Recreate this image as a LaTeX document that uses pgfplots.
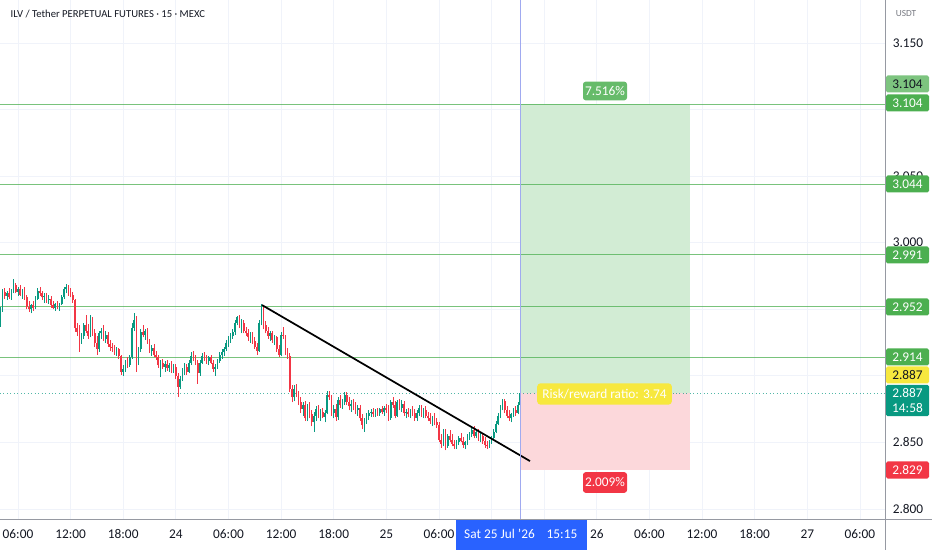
\documentclass[border=0pt]{standalone}
\usepackage{pgfplots}
\pgfplotsset{compat=1.18}
\usepackage{pgfplotstable}
\usepackage{fontspec}
\setmainfont{Carlito}
\definecolor{up}{RGB}{8,153,129}
\definecolor{dn}{RGB}{242,54,69}
\definecolor{lvl}{RGB}{76,175,80}
\definecolor{lvllight}{RGB}{125,196,127}
\definecolor{lblg}{RGB}{102,187,106}
\definecolor{gridc}{RGB}{240,243,250}
\definecolor{tvblue}{RGB}{41,98,255}
\definecolor{vline}{RGB}{160,170,240}
\definecolor{posg}{RGB}{210,236,212}
\definecolor{posr}{RGB}{252,216,219}
\definecolor{yel}{RGB}{247,232,62}
\definecolor{txt}{RGB}{19,23,34}
\definecolor{axc}{RGB}{150,153,162}
\pgfplotstableread{
t o h l c
4.00 2.941 2.952 2.937 2.950
4.25 2.950 2.965 2.948 2.963
4.50 2.963 2.966 2.958 2.960
4.75 2.960 2.964 2.957 2.962
5.00 2.962 2.966 2.958 2.959
5.25 2.959 2.965 2.957 2.964
5.50 2.964 2.973 2.962 2.968
5.75 2.968 2.970 2.962 2.963
6.00 2.963 2.967 2.960 2.965
6.25 2.965 2.968 2.960 2.961
6.50 2.961 2.965 2.958 2.963
6.75 2.963 2.967 2.957 2.959
7.00 2.959 2.961 2.950 2.952
7.25 2.952 2.956 2.948 2.950
7.50 2.950 2.954 2.947 2.953
7.75 2.953 2.956 2.949 2.951
8.00 2.951 2.960 2.950 2.958
8.25 2.958 2.966 2.957 2.964
8.50 2.964 2.967 2.960 2.962
8.75 2.962 2.964 2.957 2.959
9.00 2.959 2.962 2.955 2.960
9.25 2.960 2.962 2.955 2.957
9.50 2.957 2.961 2.954 2.958
9.75 2.958 2.960 2.951 2.953
10.00 2.953 2.956 2.950 2.951
10.25 2.951 2.955 2.949 2.954
10.50 2.954 2.956 2.950 2.952
10.75 2.952 2.955 2.949 2.954
11.00 2.954 2.961 2.953 2.959
11.25 2.959 2.967 2.958 2.965
11.50 2.965 2.969 2.962 2.967
11.75 2.967 2.968 2.960 2.962
12.00 2.962 2.966 2.959 2.961
12.25 2.961 2.963 2.955 2.957
12.50 2.957 2.958 2.933 2.936
12.75 2.936 2.940 2.930 2.933
13.00 2.933 2.938 2.918 2.926
13.25 2.926 2.932 2.924 2.930
13.50 2.930 2.940 2.928 2.938
13.75 2.938 2.946 2.932 2.934
14.00 2.934 2.939 2.928 2.930
14.25 2.930 2.946 2.929 2.942
14.50 2.942 2.944 2.930 2.932
14.75 2.932 2.935 2.922 2.925
15.00 2.925 2.930 2.916 2.920
15.25 2.920 2.934 2.918 2.932
15.50 2.932 2.936 2.928 2.934
15.75 2.934 2.938 2.926 2.928
16.00 2.928 2.934 2.925 2.931
16.25 2.931 2.933 2.922 2.924
16.50 2.924 2.927 2.919 2.922
16.75 2.922 2.925 2.918 2.921
17.00 2.921 2.923 2.916 2.918
17.25 2.918 2.922 2.915 2.920
17.50 2.920 2.921 2.913 2.915
17.75 2.915 2.916 2.901 2.903
18.00 2.903 2.908 2.900 2.905
18.25 2.905 2.912 2.903 2.910
18.50 2.910 2.914 2.906 2.908
18.75 2.908 2.916 2.907 2.914
19.00 2.914 2.940 2.913 2.936
19.25 2.936 2.947 2.934 2.942
19.50 2.942 2.945 2.903 2.910
19.75 2.910 2.922 2.908 2.920
20.00 2.920 2.935 2.918 2.933
20.25 2.933 2.938 2.929 2.931
20.50 2.931 2.935 2.927 2.934
20.75 2.934 2.936 2.924 2.926
21.00 2.926 2.928 2.917 2.919
21.25 2.919 2.923 2.915 2.921
21.50 2.921 2.924 2.914 2.916
21.75 2.916 2.919 2.912 2.914
22.00 2.914 2.916 2.906 2.908
22.25 2.908 2.912 2.899 2.910
22.50 2.910 2.913 2.905 2.907
22.75 2.907 2.911 2.903 2.909
23.00 2.909 2.912 2.904 2.906
23.25 2.906 2.910 2.903 2.908
23.50 2.908 2.911 2.902 2.904
23.75 2.904 2.909 2.902 2.907
24.00 2.907 2.909 2.898 2.900
24.25 2.900 2.902 2.884 2.892
24.50 2.892 2.900 2.890 2.898
24.75 2.898 2.906 2.896 2.904
25.00 2.904 2.910 2.901 2.907
25.25 2.907 2.909 2.901 2.903
25.50 2.903 2.912 2.902 2.910
25.75 2.910 2.918 2.908 2.915
26.00 2.915 2.919 2.911 2.913
26.25 2.913 2.916 2.908 2.910
26.50 2.910 2.912 2.894 2.902
26.75 2.902 2.912 2.900 2.910
27.00 2.910 2.917 2.909 2.915
27.25 2.915 2.918 2.911 2.913
27.50 2.913 2.916 2.909 2.911
27.75 2.911 2.915 2.908 2.914
28.00 2.914 2.916 2.909 2.910
28.25 2.910 2.912 2.903 2.905
28.50 2.905 2.909 2.900 2.907
28.75 2.907 2.913 2.905 2.911
29.00 2.911 2.918 2.910 2.916
29.25 2.916 2.920 2.913 2.918
29.50 2.918 2.922 2.915 2.920
29.75 2.920 2.927 2.919 2.925
30.00 2.925 2.930 2.922 2.928
30.25 2.928 2.932 2.925 2.930
30.50 2.930 2.935 2.928 2.933
30.75 2.933 2.942 2.931 2.940
31.00 2.940 2.945 2.938 2.944
31.25 2.944 2.946 2.936 2.938
31.50 2.938 2.943 2.932 2.940
31.75 2.940 2.942 2.932 2.934
32.00 2.934 2.937 2.930 2.932
32.25 2.932 2.935 2.926 2.929
32.50 2.929 2.933 2.925 2.931
32.75 2.931 2.933 2.924 2.926
33.00 2.926 2.929 2.920 2.922
33.25 2.922 2.925 2.916 2.919
33.50 2.919 2.942 2.918 2.940
33.75 2.940 2.954 2.938 2.950
34.00 2.950 2.952 2.935 2.938
34.25 2.938 2.941 2.932 2.934
34.50 2.934 2.937 2.928 2.930
34.75 2.930 2.934 2.926 2.932
35.00 2.932 2.934 2.925 2.927
35.25 2.927 2.931 2.923 2.929
35.50 2.929 2.930 2.918 2.920
35.75 2.920 2.923 2.914 2.916
36.00 2.916 2.933 2.915 2.931
36.25 2.931 2.937 2.928 2.930
36.50 2.930 2.931 2.916 2.918
36.75 2.918 2.921 2.913 2.915
37.00 2.915 2.917 2.888 2.890
37.25 2.890 2.893 2.880 2.884
37.50 2.884 2.893 2.881 2.890
37.75 2.890 2.894 2.884 2.886
38.00 2.886 2.889 2.878 2.880
38.25 2.880 2.884 2.872 2.875
38.50 2.875 2.880 2.870 2.878
38.75 2.878 2.881 2.866 2.868
39.00 2.868 2.879 2.866 2.877
39.25 2.877 2.880 2.868 2.871
39.50 2.871 2.874 2.862 2.865
39.75 2.865 2.873 2.858 2.870
40.00 2.870 2.877 2.866 2.875
40.25 2.875 2.878 2.868 2.870
40.50 2.870 2.875 2.866 2.873
40.75 2.873 2.876 2.868 2.869
41.00 2.869 2.874 2.865 2.872
41.25 2.872 2.889 2.871 2.886
41.50 2.886 2.889 2.882 2.884
41.75 2.884 2.886 2.870 2.872
42.00 2.872 2.878 2.868 2.875
42.25 2.875 2.879 2.866 2.869
42.50 2.869 2.884 2.867 2.882
42.75 2.882 2.886 2.876 2.878
43.00 2.878 2.883 2.875 2.880
43.25 2.880 2.888 2.878 2.886
43.50 2.886 2.888 2.878 2.880
43.75 2.880 2.884 2.874 2.877
44.00 2.877 2.882 2.873 2.879
44.25 2.879 2.883 2.874 2.876
44.50 2.876 2.880 2.871 2.874
44.75 2.874 2.878 2.870 2.876
45.00 2.876 2.878 2.866 2.868
45.25 2.868 2.871 2.860 2.863
45.50 2.863 2.868 2.858 2.866
45.75 2.866 2.872 2.864 2.870
46.00 2.870 2.874 2.867 2.872
46.25 2.872 2.875 2.869 2.873
46.50 2.873 2.876 2.869 2.871
46.75 2.871 2.875 2.869 2.874
47.00 2.874 2.876 2.870 2.872
47.25 2.872 2.876 2.870 2.875
47.50 2.875 2.877 2.871 2.873
47.75 2.873 2.877 2.870 2.876
48.00 2.876 2.879 2.872 2.874
48.25 2.874 2.878 2.866 2.868
48.50 2.868 2.882 2.867 2.880
48.75 2.880 2.884 2.876 2.878
49.00 2.878 2.881 2.868 2.870
49.25 2.870 2.882 2.869 2.880
49.50 2.880 2.883 2.874 2.876
49.75 2.876 2.882 2.873 2.879
50.00 2.879 2.881 2.870 2.872
50.25 2.872 2.875 2.868 2.873
50.50 2.873 2.876 2.869 2.871
50.75 2.871 2.875 2.868 2.874
51.00 2.874 2.877 2.870 2.872
51.25 2.872 2.875 2.866 2.868
51.50 2.868 2.874 2.866 2.872
51.75 2.872 2.878 2.870 2.876
52.00 2.876 2.878 2.869 2.871
52.25 2.871 2.876 2.868 2.874
52.50 2.874 2.877 2.868 2.870
52.75 2.870 2.873 2.866 2.868
53.00 2.868 2.872 2.864 2.866
53.25 2.866 2.870 2.862 2.869
53.50 2.869 2.872 2.863 2.865
53.75 2.865 2.868 2.861 2.863
54.00 2.863 2.865 2.850 2.852
54.25 2.852 2.856 2.846 2.849
54.50 2.849 2.860 2.847 2.858
54.75 2.858 2.860 2.844 2.847
55.00 2.847 2.856 2.846 2.855
55.25 2.855 2.859 2.850 2.852
55.50 2.852 2.856 2.847 2.849
55.75 2.849 2.852 2.845 2.847
56.00 2.847 2.852 2.845 2.850
56.25 2.850 2.855 2.848 2.853
56.50 2.853 2.857 2.850 2.851
56.75 2.851 2.854 2.846 2.848
57.00 2.848 2.851 2.845 2.850
57.25 2.850 2.856 2.848 2.854
57.50 2.854 2.858 2.852 2.856
57.75 2.856 2.861 2.854 2.859
58.00 2.859 2.862 2.853 2.855
58.25 2.855 2.860 2.853 2.858
58.50 2.858 2.860 2.851 2.853
58.75 2.853 2.857 2.850 2.855
59.00 2.855 2.857 2.849 2.851
59.25 2.851 2.854 2.846 2.848
59.50 2.848 2.851 2.845 2.847
59.75 2.847 2.852 2.846 2.850
60.00 2.850 2.855 2.849 2.853
60.25 2.853 2.860 2.852 2.858
60.50 2.858 2.866 2.857 2.864
60.75 2.864 2.872 2.863 2.870
61.00 2.870 2.878 2.868 2.876
61.25 2.876 2.883 2.874 2.881
61.50 2.881 2.883 2.872 2.874
61.75 2.874 2.877 2.868 2.870
62.00 2.870 2.874 2.866 2.868
62.25 2.868 2.872 2.865 2.871
62.50 2.871 2.876 2.869 2.874
62.75 2.874 2.877 2.870 2.872
63.00 2.872 2.880 2.871 2.878
63.25 2.878 2.888 2.876 2.887
}\candles
\tikzset{px/.style={shift={(0pt,389.25pt)}, x=0.75pt, y=-0.75pt}}
\newcommand\lf{\fontsize{10}{12}\selectfont}
\begin{document}
\begin{tikzpicture}
\useasboundingbox (0pt,-23.25pt) rectangle (699pt,389.25pt);
\begin{axis}[
  at={(0pt,0pt)}, anchor=south west,
  scale only axis, width=663.75pt, height=389.25pt,
  xmin=3.95, xmax=104.86, ymin=2.7925, ymax=3.1823,
  axis line style={draw=none},
  xtick={6,12,...,102}, ytick={2.80,2.85,3.00,3.05,3.10,3.15,2.90,2.95},
  xticklabel=\empty, yticklabel=\empty,
  major tick length=0pt,
  grid=major, major grid style={gridc, line width=0.6pt},
]
% position tool
\addplot[draw=none, fill=posg] coordinates {(63.25,2.887) (82.6,2.887) (82.6,3.104) (63.25,3.104)};
\addplot[draw=none, fill=posr] coordinates {(63.25,2.829) (82.6,2.829) (82.6,2.887) (63.25,2.887)};
% levels
\addplot[lvl, line width=0.7pt, opacity=0.75] coordinates {(3.95,3.104) (104.86,3.104)};
\addplot[lvl, line width=0.7pt, opacity=0.75] coordinates {(3.95,3.044) (104.86,3.044)};
\addplot[lvl, line width=0.7pt, opacity=0.75] coordinates {(3.95,2.991) (104.86,2.991)};
\addplot[lvl, line width=0.7pt, opacity=0.75] coordinates {(3.95,2.952) (104.86,2.952)};
\addplot[lvl, line width=0.7pt, opacity=0.75] coordinates {(3.95,2.914) (104.86,2.914)};
\addplot[up, line width=0.6pt, dotted, opacity=0.7] coordinates {(3.95,2.887) (104.86,2.887)};
% candles: wicks
\addplot[up, line width=0.55pt, no markers, quiver={u=0, v=\thisrow{h}-\thisrow{l}},
  restrict expr to domain={\thisrow{c}-\thisrow{o}}{0:1}] table[x=t, y=l] {\candles};
\addplot[dn, line width=0.55pt, no markers, quiver={u=0, v=\thisrow{h}-\thisrow{l}},
  restrict expr to domain={\thisrow{c}-\thisrow{o}}{-1:-0.0005}] table[x=t, y=l] {\candles};
% candles: bodies
\addplot[up, line width=1.25pt, no markers, quiver={u=0, v=\thisrow{c}-\thisrow{o}},
  restrict expr to domain={\thisrow{c}-\thisrow{o}}{0:1}] table[x=t, y=o] {\candles};
\addplot[dn, line width=1.25pt, no markers, quiver={u=0, v=\thisrow{o}-\thisrow{c}},
  restrict expr to domain={\thisrow{c}-\thisrow{o}}{-1:-0.0005}] table[x=t, y=c] {\candles};
% trend line
\addplot[black, line width=1.3pt] coordinates {(33.82,2.9532) (64.38,2.836)};
% time marker
\addplot[vline, line width=0.8pt] coordinates {(63.25,2.7925) (63.25,3.1823)};
\end{axis}
\begin{scope}[px]
\draw[axc, line width=0.75pt] (0,519) -- (932,519);
\draw[axc, line width=0.75pt] (885,0) -- (885,550);
% header
\node[anchor=west, text=txt, font=\fontsize{8}{10}\selectfont] at (6,14) {ILV / Tether PERPETUAL FUTURES · 15 · MEXC};
% price scale
\node[text=axc!80!black, font=\fontsize{7}{8}\selectfont] at (906,14) {USDT};
\foreach \yy/\tt in {43/3.150,176.1/3.050,242.7/3.000,442.4/2.850,509/2.800}
  \node[text=txt, font=\lf] at (908,\yy) {\tt};
\tikzset{pb/.style={text=white, font=\lf, inner sep=0pt, minimum width=32.25pt, minimum height=12.75pt, rounded corners=1.2pt}}
\node[pb, fill=lvllight, text=txt] at (907.5,84) {3.104};
\node[pb, fill=lvl] at (907.5,103) {3.104};
\node[pb, fill=lvl] at (907.5,184) {3.044};
\node[pb, fill=lvl] at (907.5,255) {2.991};
\node[pb, fill=lvl] at (907.5,307) {2.952};
\node[pb, fill=lvl] at (907.5,357) {2.914};
\node[pb, fill=yel, text=txt] at (907.5,375) {2.887};
\node[pb, fill=up, minimum height=23.5pt, align=center, font=\fontsize{10}{11.25}\selectfont] at (907.5,400.5) {2.887\\14:58};
\node[pb, fill=dn] at (907.5,470) {2.829};
% position labels
\node[fill=lblg, text=white, font=\lf, rounded corners=2pt, inner sep=0pt, minimum width=33pt, minimum height=14pt] at (605,91) {7.516\%};
\node[fill=yel, text=white, font=\lf, rounded corners=2.5pt, inner sep=0pt, minimum width=101pt, minimum height=16pt] at (604.5,394) {Risk/reward ratio: 3.74};
\node[fill=dn, text=white, font=\lf, rounded corners=2pt, inner sep=0pt, minimum width=33pt, minimum height=15.5pt] at (605,482.5) {2.009\%};
% time scale
\foreach \xx/\tt in {18/06:00,70.6/12:00,123.2/18:00,175.9/24,228.5/06:00,281.1/12:00,333.7/18:00,386.4/25,439/06:00,596.8/26,649.4/06:00,702/12:00,754.6/18:00,807.3/27,859.9/06:00}
  \node[text=txt, font=\lf] at (\xx,534) {\tt};
\fill[tvblue] (456,520) rectangle (587,550);
\node[text=white, font=\lf] at (499.5,534) {Sat 25 Jul ’26};
\node[text=white, font=\lf] at (562,534) {15:15};
\end{scope}
\end{tikzpicture}
\end{document}
